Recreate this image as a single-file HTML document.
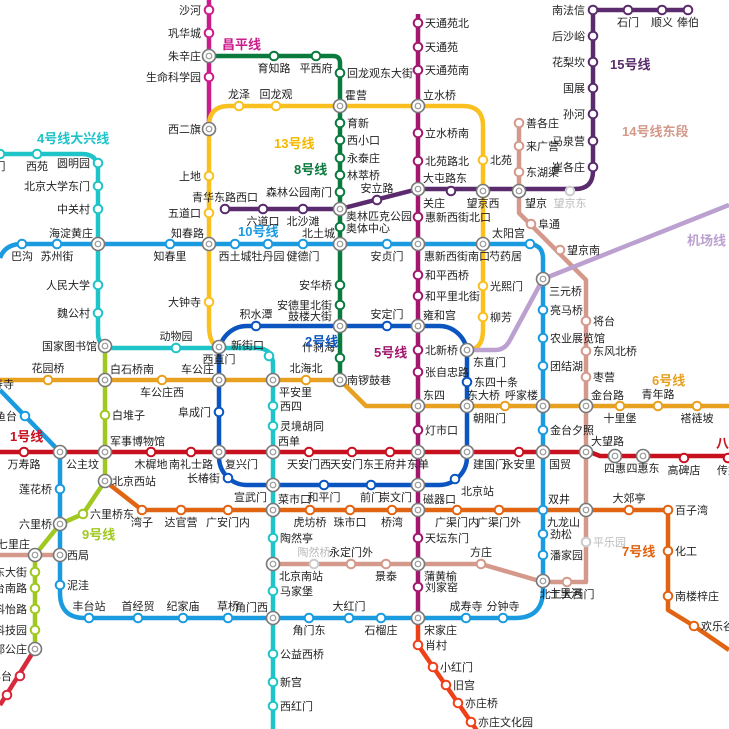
<!DOCTYPE html>
<html><head><meta charset="utf-8">
<style>
html,body{margin:0;padding:0;background:#fff;}
svg{display:block;font-family:"Liberation Sans","Noto Sans CJK SC",sans-serif;}
text{font-size:11px;fill:#222;}
.ln{font-size:13px;font-weight:bold;}
</style></head>
<body>
<svg id="m" width="729" height="729" viewBox="0 0 729 729" xmlns="http://www.w3.org/2000/svg">
<g fill="none" stroke-width="4.5" stroke-linejoin="round">
<path d="M0,258 Q5,244 22,244 H528 Q543,244 543,259 V590 Q543,618 515,618 H85 Q60,618 60,593 V452 L25,416 L0,390" stroke="#1a9be0"/>
<path d="M0,154 H82 Q98,154 98,170 V333 Q98,348 113,348 H256 Q273,348 273,365 V729" stroke="#1ec4c8"/>
<path d="M209,0 V129" stroke="#cc1c8c"/>
<path d="M209,56 H333 Q340,56 340,63 V380" stroke="#0b7a3e"/>
<path d="M219,347 Q209,345 209,325 V126 Q209,106 229,106 H463 Q483,106 483,126 V330 Q483,350 467,350" stroke="#f9c020"/>
<path d="M225,209 H340 L418,189 H575 Q593,189 593,171 V10 H688" stroke="#5a2c6e"/>
<path d="M519,123 V213 L586,280 V582 H543 L481,564 H273 M0,555 H60" stroke="#d4998a"/>
<path d="M467,350 H495 Q505,350 510,340 L543,279 L729,205" stroke="#bba0d0"/>
<rect x="219" y="326" width="248" height="159" rx="28" stroke="#0b55c0"/>
<path d="M0,452 H590 L600,456 H729" stroke="#c8101e"/>
<path d="M0,380 H340 L366,406 H729" stroke="#e8a020"/>
<path d="M105,346 V481 L83,514 L60,524 L35,555 V649" stroke="#a0c820"/>
<path d="M35,649 L0,705" stroke="#d8283b"/>
<path d="M105,481 L142,510 H668 V610 L694,626 L729,650" stroke="#e06412"/>
<path d="M418,14 V618" stroke="#a3176e"/>
<path d="M418,618 V645 L480,735" stroke="#f0401a"/>
</g>
<g id="st"></g>
<g class="ln">
<text x="222" y="49" class="ln" style="fill:#cc1c8c">昌平线</text>
<text x="274" y="148" class="ln" style="fill:#f5b800">13号线</text>
<text x="294" y="174" class="ln" style="fill:#0b7a3e">8号线</text>
<text x="37" y="143" class="ln" style="fill:#1ec4c8">4号线大兴线</text>
<text x="238" y="236" class="ln" style="fill:#1a9be0">10号线</text>
<text x="305" y="346" class="ln" style="fill:#0b55c0">2号线</text>
<text x="374" y="357" class="ln" style="fill:#a3176e">5号线</text>
<text x="610" y="69" class="ln" style="fill:#5a2c6e">15号线</text>
<text x="622" y="136" class="ln" style="fill:#d4998a">14号线东段</text>
<text x="687" y="245" class="ln" style="fill:#bba0d0">机场线</text>
<text x="652" y="385" class="ln" style="fill:#e8a020">6号线</text>
<text x="10" y="441" class="ln" style="fill:#c8101e">1号线</text>
<text x="82" y="539" class="ln" style="fill:#a0c820">9号线</text>
<text x="622" y="556" class="ln" style="fill:#e06412">7号线</text>
<text x="716" y="448" class="ln" style="fill:#c8101e">八</text>
</g>
<text x="346" y="220">奥林匹克公园</text>
<text x="346" y="232">奥体中心</text>
</svg>
<script>
var g=document.getElementById('st'),NS='http://www.w3.org/2000/svg';
function el(t,a,txt){var e=document.createElementNS(NS,t);for(var k in a)e.setAttribute(k,a[k]);if(txt)e.textContent=txt;g.appendChild(e);return e;}
function S(c,arr){arr.forEach(function(s){var x=s[0],y=s[1],n=s[2],p=s[3]||'r',i=s[4];
 if(i===1){el('circle',{cx:x,cy:y,r:6.5,fill:'#fff',stroke:'#777','stroke-width':1.6});el('circle',{cx:x,cy:y,r:2.8,fill:'none',stroke:'#999','stroke-width':1.2});}
 else if(c){el('circle',{cx:x,cy:y,r:4.3,fill:'#fff',stroke:i===2?'#ccc':c,'stroke-width':2});}
 if(!n)return;var o={r:[7,4,'start'],l:[-8,4,'end'],t:[0,-8,'middle'],b:[0,16,'middle'],tr:[5,-7,'start'],tl:[-5,-7,'end'],br:[6,16,'start'],bl:[-6,16,'end']}[p];
 var t=el('text',{x:x+o[0],y:y+o[1],'text-anchor':o[2]},n);if(i===2)t.setAttribute('style','fill:#bbb');});}
S('#cc1c8c',[[209,10,'沙河','l'],[209,33,'巩华城','l'],[209,56,'朱辛庄','l',1],[209,77,'生命科学园','l'],[209,129,'西二旗','l',1]]);
S('#0b7a3e',[[274,56,'育知路','b'],[316,56,'平西府','b'],[340,73,'回龙观东大街','r'],[340,106,'霍营','tr',1],[340,123,'育新','r'],[340,140,'西小口','r'],[340,158,'永泰庄','r'],[340,175,'林萃桥','r'],[340,192,'森林公园南门','l'],[340,209,'','br',1],[340,227,'','r'],[340,244,'北土城','tl',1],[340,285,'安华桥','l'],[340,305,'安德里北街','l'],[340,326,'','tl',1],[340,358,'什刹海','tl'],[340,380,'南锣鼓巷','r',1]]);
S(null,[[340,316,'鼓楼大街','l']]);
S('#f9c020',[[239,106,'龙泽','t'],[276,106,'回龙观','t'],[418,106,'立水桥','tr',1],[483,160,'北苑','r'],[483,191,'望京西','b',1],[483,244,'芍药居','br',1],[483,286,'光熙门','r'],[483,317,'柳芳','r'],[209,176,'上地','l'],[209,213,'五道口','l'],[209,244,'知春路','tl',1],[209,302,'大钟寺','l'],[219,347,'西直门','b',1],[467,350,'东直门','br',1]]);
S('#a3176e',[[418,23,'天通苑北'],[418,47,'天通苑'],[418,70,'天通苑南'],[418,133,'立水桥南'],[418,161,'北苑路北'],[418,189,'大屯路东','tr',1],[418,217,'惠新西街北口'],[418,244,'惠新西街南口','br',1],[418,275,'和平西桥'],[418,296,'和平里北街'],[418,326,'雍和宫','tr',1],[418,350,'北新桥'],[418,372,'张自忠路'],[418,406,'东四','tr',1],[418,430,'灯市口'],[418,452,'东单','b',1],[418,485,'崇文门','bl',1],[418,510,'磁器口','tr',1],[418,538,'天坛东门'],[418,564,'蒲黄榆','br',1],[418,587,'刘家窑'],[418,618,'宋家庄','br',1]]);
S('#f0401a',[[418,645,'肖村'],[433,667,'小红门'],[446,685,'旧宫'],[458,703,'亦庄桥'],[471,722,'亦庄文化园']]);
S('#5a2c6e',[[377,200,'安立路','t'],[451,191,'关庄','bl'],[519,191,'望京','br',1],[570,191,'望京东','b',2],[593,167,'崔各庄','l'],[593,141,'马泉营','l'],[593,114,'孙河','l'],[593,88,'国展','l'],[593,62,'花梨坎','l'],[593,36,'后沙峪','l'],[593,10,'南法信','l'],[628,10,'石门','b'],[662,10,'顺义','b'],[688,10,'俸伯','b'],[225,209,'青华东路西口','t'],[263,209,'六道口','b'],[303,209,'北沙滩','b']]);
S('#d4998a',[[519,123,'善各庄'],[519,146,'来广营'],[519,172,'东湖渠'],[531,224,'阜通'],[560,250,'望京南'],[586,321,'将台'],[586,351,'东风北桥'],[586,377,'枣营'],[586,452,'大望路','tr',1],[586,510,'九龙山','bl',1],[586,542,'平乐园','r',2],[567,582,'北工大西门','b'],[543,581,'十里河','br',1],[481,564,'方庄','t'],[386,564,'景泰','b'],[351,564,'永定门外','t'],[314,564,'陶然桥','t',2],[273,564,'北京南站','br',1],[35,555,'七里庄','tl',1],[60,555,'西局','r',1]]);
S('#1a9be0',[[22,244,'巴沟','b'],[57,244,'苏州街','b'],[98,244,'海淀黄庄','tl',1],[170,244,'知春里','b'],[235,244,'西土城','b'],[268,244,'牡丹园','b'],[303,244,'健德门','b'],[387,244,'安贞门','b'],[530,244,'太阳宫','tl'],[543,279,'三元桥','br',1],[543,310,'亮马桥'],[543,338,'农业展览馆'],[543,366,'团结湖'],[543,406,'呼家楼','tl',1],[543,430,'金台夕照'],[543,452,'国贸','br',1],[543,510,'双井','tr'],[543,534,'劲松'],[543,555,'潘家园'],[503,618,'分钟寺','t'],[466,618,'成寿寺','t'],[381,618,'石榴庄','b'],[349,618,'大红门','t'],[309,618,'角门东','b'],[273,618,'角门西','tl',1],[228,618,'草桥','t'],[183,618,'纪家庙','t'],[138,618,'首经贸','t'],[89,618,'丰台站','t'],[60,585,'泥洼'],[60,524,'六里桥','l',1],[60,489,'莲花桥','l'],[60,452,'公主坟','br',1],[25,416,'鱼台','l']]);
S('#1ec4c8',[[37,154,'西苑','b'],[98,163,'圆明园','l'],[0,154,'门','b'],[98,186,'北京大学东门','l'],[98,209,'中关村','l'],[98,285,'人民大学','l'],[98,313,'魏公村','l'],[105,346,'国家图书馆','l',1],[176,348,'动物园','t'],[269,356,'新街口','tl'],[273,380,'平安里','br',1],[273,406,'西四'],[273,426,'灵境胡同'],[273,452,'西单','tr',1],[273,485,'宣武门','bl',1],[273,510,'菜市口','tr',1],[273,538,'陶然亭'],[273,591,'马家堡'],[273,654,'公益西桥'],[273,682,'新宫'],[273,706,'西红门']]);
S('#0b55c0',[[256,326,'积水潭','t'],[387,326,'安定门','t'],[467,382,'东四十条'],[467,406,'朝阳门','br',1],[467,452,'建国门','br',1],[455,479,'北京站','br'],[371,485,'前门','b'],[324,485,'和平门','b'],[228,478,'长椿街','l'],[219,452,'复兴门','br',1],[219,412,'阜成门','l'],[219,380,'车公庄','tl',1]]);
S('#c8101e',[[24,452,'万寿路','b'],[105,452,'军事博物馆','tr',1],[151,452,'木樨地','b'],[191,452,'南礼士路','b'],[309,452,'天安门西','b'],[352,452,'天安门东','b'],[390,452,'王府井','b'],[519,452,'永安里','b'],[615,456,'四惠','b',1],[643,456,'四惠东','b',1],[684,458,'高碑店','b'],[728,458,'传媒','b']]);
S('#e8a020',[[48,380,'花园桥','t'],[105,380,'白石桥南','tr',1],[162,380,'车公庄西','b'],[306,380,'北海北','t'],[505,406,'东大桥','tl'],[586,406,'金台路','tr',1],[620,406,'十里堡','b'],[658,406,'青年路','t'],[697,406,'褡裢坡','b']]);
S('#a0c820',[[105,415,'白堆子'],[105,481,'北京西站','r',1],[83,514,'六里桥东'],[35,572,'丰台东大街','l'],[35,588,'丰台南路','l'],[35,609,'科怡路','l'],[35,630,'丰台科技园','l'],[35,649,'郭公庄','l',1]]);
S('#d8283b',[[20,676,'丰台','l'],[7,695,'','l']]);
S('#e06412',[[142,510,'湾子','b'],[181,510,'达官营','b'],[228,510,'广安门内','b'],[310,510,'虎坊桥','b'],[350,510,'珠市口','b'],[392,510,'桥湾','b'],[457,510,'广渠门内','b'],[499,510,'广渠门外','b'],[629,510,'大郊亭','t'],[668,510,'百子湾'],[668,551,'化工'],[668,596,'南楼梓庄'],[694,626,'欢乐谷']]);
S(null,[[22,384,'慈寿寺','l']]);
</script>
</body></html>
